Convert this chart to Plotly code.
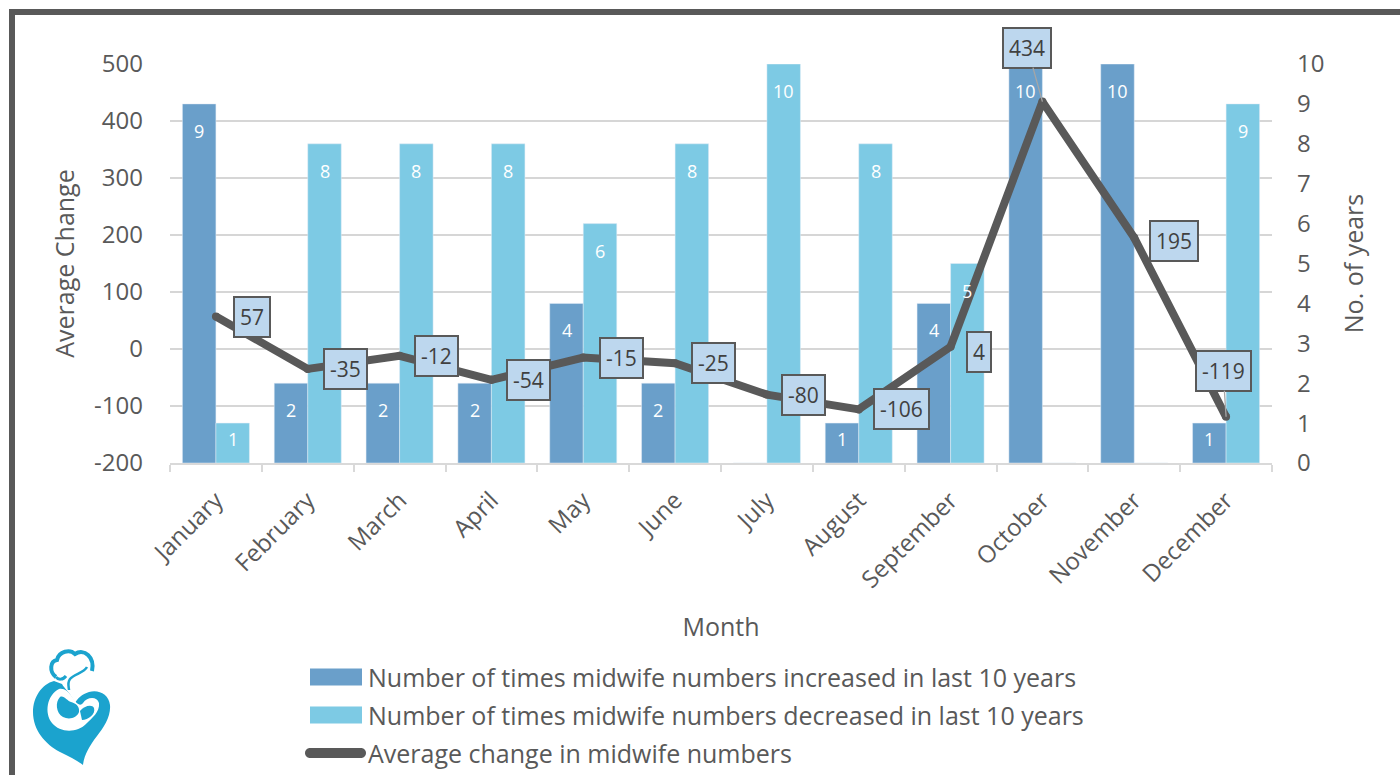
import plotly.graph_objects as go

# ---- data -------------------------------------------------------------
months = ["January", "February", "March", "April", "May", "June", "July",
          "August", "September", "October", "November", "December"]
increased = [9, 2, 2, 2, 4, 2, 0, 1, 4, 10, 10, 1]
decreased = [1, 8, 8, 8, 6, 8, 10, 8, 5, 0, 0, 9]
avg_change = [57, -35, -12, -54, -15, -25, -80, -106, 4, 434, 195, -119]

change_ticks = [-200, -100, 0, 100, 200, 300, 400, 500]
change_tick_text = ["-200", "-100", "0", "100", "200", "300", "400", "500"]

name_inc = "Number of times midwife numbers increased in last 10 years"
name_dec = "Number of times midwife numbers decreased in last 10 years"
name_avg = "Average change in midwife numbers"

# ---- styling ----------------------------------------------------------
FONT = "Open Sans, Noto Sans, DejaVu Sans, sans-serif"
TXT = "#595959"
C_INC = "#6A9FCA"
C_DEC = "#7DCAE4"
C_LINE = "#595959"
C_BOX = "#BDD7EE"
C_LOGO = "#1BA3CE"

W, H = 1400, 775
ML, MR, MT, MB = 170, 128, 64, 312
PW, PH = W - ML - MR, H - MT - MB


def fx(x):
    """pixel x -> paper x"""
    return (x - ML) / PW


def fy(y):
    """pixel y (from top) -> paper y"""
    return (H - MB - y) / PH


fig = go.Figure()

fig.add_trace(go.Bar(x=months, y=increased, name=name_inc, marker_color=C_INC,
                     yaxis="y", showlegend=False))
fig.add_trace(go.Bar(x=months, y=decreased, name=name_dec, marker_color=C_DEC,
                     yaxis="y", showlegend=False))
# markers of the same width as the line give it rounded joins and ends
fig.add_trace(go.Scatter(x=months, y=avg_change, name=name_avg, mode="lines+markers",
                         line=dict(color=C_LINE, width=8),
                         marker=dict(color=C_LINE, size=8, line=dict(width=0)),
                         yaxis="y2", showlegend=False))

annotations = []

# value labels inside the bars
BAR_SHIFT = 16.75
for vals, sx in ((increased, -BAR_SHIFT), (decreased, BAR_SHIFT)):
    for m, v in zip(months, vals):
        if v <= 0:
            continue
        annotations.append(dict(
            x=m, y=v, xref="x", yref="y", text=str(v), showarrow=False,
            xshift=sx, yshift=-16 if v == 1 else -27,
            font=dict(family=FONT, size=18, color="white")))

# boxed labels on the line
label_offsets = [(36, 0), (38, 0), (37, 0), (37, 0), (38, 0), (38, 0),
                 (37, 0), (43, 0), (28, 5), (-15, -54), (40, 3), (-3, -46)]
leader = {9, 11}
for i, (m, v) in enumerate(zip(months, avg_change)):
    ax, ay = label_offsets[i]
    annotations.append(dict(
        x=m, y=v, xref="x", yref="y2", text=str(v), showarrow=True,
        ax=ax, ay=ay, arrowhead=0, arrowwidth=1.3,
        arrowcolor="#A6A6A6" if i in leader else "rgba(0,0,0,0)",
        bgcolor=C_BOX, bordercolor="#595959", borderwidth=2, borderpad=5,
        font=dict(family=FONT, size=21, color="#404040")))


def path(cmds):
    out = []
    for c in cmds:
        if isinstance(c, str):
            out.append(c)
        else:
            out.append(f"{fx(c[0]):.5f},{fy(c[1]):.5f}")
    return " ".join(out)


# legend
legend_rows = [(name_inc, "bar", C_INC, 677), (name_dec, "bar", C_DEC, 715),
               (name_avg, "line", C_LINE, 753)]
shapes = []
for text, kind, col, yc in legend_rows:
    if kind == "bar":
        shapes.append(dict(type="rect", xref="paper", yref="paper",
                           x0=fx(310), x1=fx(362), y0=fy(yc - 8.5), y1=fy(yc + 8.5),
                           fillcolor=col, line=dict(width=0)))
    else:
        r, k = 5, 5 * 0.5523
        x0, x1 = 310, 361
        pill = path(["M", (x0, yc - r), "L", (x1, yc - r),
                     "C", (x1 + k, yc - r), (x1 + r, yc - k), (x1 + r, yc),
                     "C", (x1 + r, yc + k), (x1 + k, yc + r), (x1, yc + r),
                     "L", (x0, yc + r),
                     "C", (x0 - k, yc + r), (x0 - r, yc + k), (x0 - r, yc),
                     "C", (x0 - r, yc - k), (x0 - k, yc - r), (x0, yc - r), "Z"])
        shapes.append(dict(type="path", xref="paper", yref="paper", path=pill,
                           fillcolor=col, line=dict(width=0)))
    annotations.append(dict(x=fx(366), y=fy(yc), xref="paper", yref="paper",
                            xanchor="left", yanchor="middle", showarrow=False,
                            text=text, font=dict(family=FONT, size=25, color=TXT)))

# frame
shapes.append(dict(type="line", xref="paper", yref="paper", x0=fx(9), x1=fx(1405),
                   y0=fy(12), y1=fy(12), line=dict(color="#595959", width=6)))
shapes.append(dict(type="line", xref="paper", yref="paper", x0=fx(12), x1=fx(12),
                   y0=fy(9), y1=fy(780), line=dict(color="#595959", width=6)))

# logo (mother and child heart)
heart = path(["M", (54, 681),
              "C", (42, 684), (33, 697), (33, 712),
              "C", (33, 730), (45, 744), (60, 752),
              "C", (70, 757), (78, 761), (83, 765),
              "C", (84, 755), (90, 745), (97, 736),
              "C", (104, 727), (111, 716), (110, 705),
              "C", (109, 694), (98, 689), (89, 692),
              "C", (82, 694), (77, 699), (75, 703),
              "C", (72, 695), (64, 688), (62, 684), "Z"])
hollow = path(["M", (59, 689),
               "C", (47, 695), (44, 713), (52, 723),
               "C", (60, 733), (77, 733), (86, 724),
               "C", (92, 718), (100, 712), (99, 703),
               "C", (97, 696), (87, 697), (83, 703),
               "C", (80, 707), (76, 703), (73, 698),
               "C", (68, 691), (64, 688), (59, 689), "Z"])
baby = path(["M", (60, 697),
             "C", (55, 702), (56, 713), (63, 717),
             "C", (69, 720), (77, 718), (79, 712),
             "C", (80, 706), (75, 703), (71, 702),
             "C", (67, 701), (64, 695), (60, 697), "Z"])
face = path(["M", (80, 711),
             "C", (84, 706), (92, 704), (94, 708),
             "C", (96, 714), (88, 720), (82, 720), "Z"])
hat = path(["M", (56, 677),
            "C", (49, 672), (50, 661), (57, 660),
            "C", (59, 651), (70, 649), (75, 654),
            "C", (84, 648), (95, 657), (92, 671)])
neck = path(["M", (87, 667),
             "C", (84, 673), (74, 674), (70, 679),
             "C", (67, 683), (69, 688), (69, 690)])
chin = path(["M", (56, 677), "C", (58, 680), (63, 680), (66, 676)])

shapes += [
    dict(type="path", xref="paper", yref="paper", path=heart, fillcolor=C_LOGO,
         line=dict(width=0)),
    dict(type="path", xref="paper", yref="paper", path=hollow, fillcolor="white",
         line=dict(width=0)),
    dict(type="path", xref="paper", yref="paper", path=baby, fillcolor=C_LOGO,
         line=dict(width=0)),
    dict(type="path", xref="paper", yref="paper", path=face, fillcolor=C_LOGO,
         line=dict(width=0)),
    dict(type="path", xref="paper", yref="paper", path=hat,
         line=dict(color=C_LOGO, width=4)),
    dict(type="path", xref="paper", yref="paper", path=neck,
         line=dict(color=C_LOGO, width=2.5)),
    dict(type="path", xref="paper", yref="paper", path=chin,
         line=dict(color=C_LOGO, width=3)),
]

fig.update_layout(
    width=W, height=H, autosize=False,
    margin=dict(l=ML, r=MR, t=MT, b=MB, autoexpand=False),
    paper_bgcolor="white", plot_bgcolor="white",
    barmode="group", bargap=0.27, bargroupgap=0,
    font=dict(family=FONT, color=TXT),
    showlegend=False,
    xaxis=dict(
        type="category", range=[-0.5, 11.5],
        showline=True, linecolor="#D9D9D9", linewidth=1.5,
        ticks="outside", tickson="boundaries", ticklen=7, tickcolor="#D9D9D9",
        tickwidth=1.5, tickangle=-45, tickfont=dict(size=24, color=TXT),
        ticklabelstandoff=12,
        showgrid=False, automargin=False,
        title=dict(text="Month", font=dict(size=25, color=TXT), standoff=25),
    ),
    yaxis=dict(
        side="right", range=[0, 10], dtick=1, showgrid=False, zeroline=False,
        showline=False, ticks="", ticklabelstandoff=24, automargin=False,
        tickfont=dict(size=24, color=TXT),
        title=dict(text="No. of years", font=dict(size=25, color=TXT), standoff=22),
    ),
    yaxis2=dict(
        overlaying="y", side="left", range=[-200, 500],
        tickmode="array", tickvals=change_ticks, ticktext=change_tick_text,
        showgrid=True, gridcolor="rgba(200,200,200,0.75)", gridwidth=1.5,
        zeroline=False, showline=False, ticks="", ticklabelstandoff=26,
        automargin=False, tickfont=dict(size=24, color=TXT),
        title=dict(text="Average Change", font=dict(size=25, color=TXT), standoff=12),
    ),
    annotations=annotations,
    shapes=shapes,
)

fig.write_html("out.html")
